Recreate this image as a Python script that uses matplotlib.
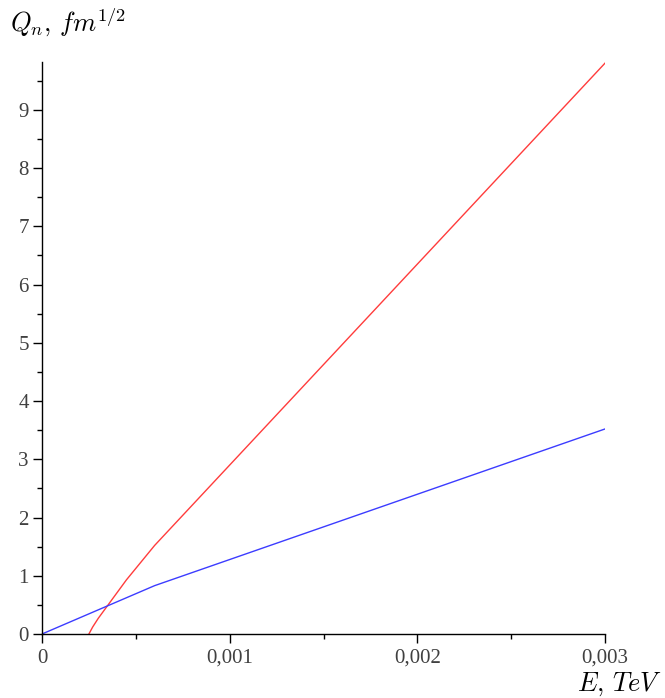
import matplotlib
matplotlib.use("Agg")
import matplotlib.pyplot as plt
from matplotlib.ticker import MultipleLocator, FuncFormatter

# curve points
red_E = [0.00025, 0.00027, 0.0003, 0.00035, 0.00045, 0.0006, 0.003]
red_Q = [0.0, 0.12, 0.27, 0.49, 0.93, 1.52, 9.8]
blue_E = [0.0, 0.0006, 0.003]
blue_Q = [0.0, 0.83, 3.52]

x_ticks = [0, 0.001, 0.002, 0.003]
x_labels = ["0", "0,001", "0,002", "0,003"]
y_ticks = list(range(10))

plt.rcParams["font.family"] = ["Liberation Serif", "DejaVu Serif"]
plt.rcParams["mathtext.fontset"] = "cm"

fig = plt.figure(figsize=(6.65, 6.98), dpi=100)
ax = fig.add_axes([42/665, 64/698, 563/665, 572/698])

ax.plot(red_E, red_Q, color="#ff3c3c", lw=1.0)
ax.plot(blue_E, blue_Q, color="#3c3cff", lw=1.0)

ax.set_xlim(0, 0.003)
ax.set_ylim(0, 9.82)
for s in ("top", "right"):
    ax.spines[s].set_visible(False)
for s in ("left", "bottom"):
    ax.spines[s].set_linewidth(1.0)

ax.set_xticks(x_ticks)
ax.set_xticklabels(x_labels)
ax.set_yticks(y_ticks)
ax.xaxis.set_minor_locator(MultipleLocator(0.0005))
ax.yaxis.set_minor_locator(MultipleLocator(0.5))
ax.tick_params(which="major", length=6.5, width=1, labelcolor="#404040", labelsize=15)
ax.tick_params(axis="y", which="major", pad=3)
ax.tick_params(axis="x", which="major", pad=4)
ax.tick_params(which="minor", length=3.5, width=1)

fig.text(10/665, 1 - 22/698, r"$Q_n,\, fm^{1/2}$", fontsize=19, va="center", ha="left")
fig.text(662/665, 1 - 684/698, r"$E,\, TeV$", fontsize=19, va="center", ha="right")

fig.savefig("out.png", dpi=100)
